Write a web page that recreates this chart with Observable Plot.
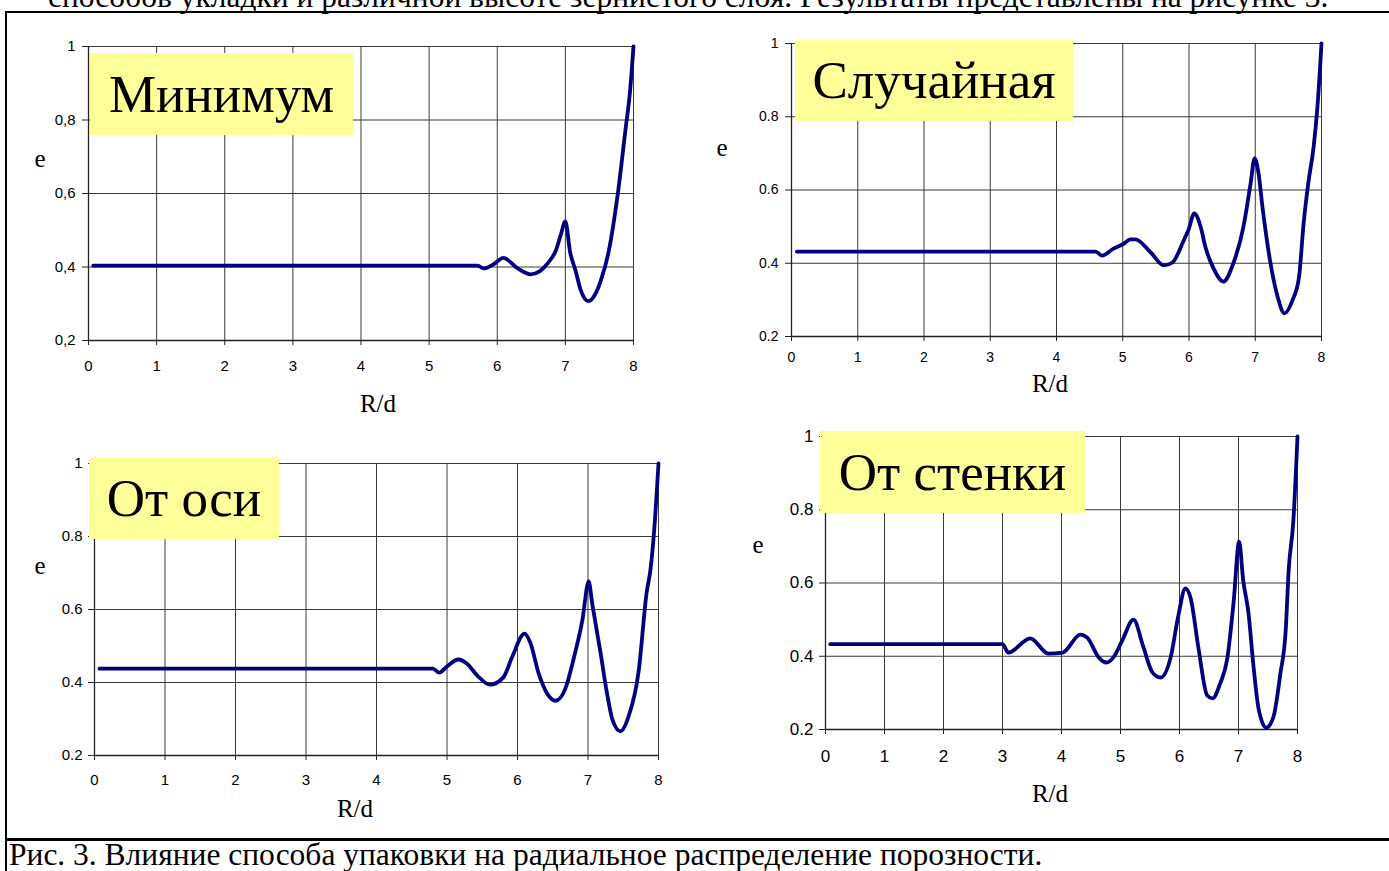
<!DOCTYPE html>
<html><head><meta charset="utf-8">
<script src="https://cdn.jsdelivr.net/npm/d3@7"></script>
<script src="https://cdn.jsdelivr.net/npm/@observablehq/plot@0.6"></script>
<style>
html,body{margin:0;padding:0;background:#fff;}
body{width:1389px;height:871px;overflow:hidden;position:relative;font-family:"Liberation Serif","Times New Roman",serif;color:#000;}
.line{position:absolute;background:#000;}
.box{position:absolute;background:#FFFF99;font-family:"Liberation Serif","Times New Roman",serif;font-size:53px;line-height:1;white-space:nowrap;display:flex;align-items:center;justify-content:center;z-index:2;}
.lab{position:absolute;font-family:"Liberation Serif","Times New Roman",serif;font-size:25px;line-height:1;transform:translate(-50%,-50%);white-space:nowrap;}
.txt{position:absolute;font-family:"Liberation Serif","Times New Roman",serif;font-size:31.5px;line-height:28px;white-space:nowrap;}
svg{position:absolute;overflow:visible;}
</style></head><body>
<script>
// ---- data ----
const xTicks = [0, 1, 2, 3, 4, 5, 6, 7, 8];
const yTicks = [0.2, 0.4, 0.6, 0.8, 1];
const yLabelsComma = ["0,2", "0,4", "0,6", "0,8", "1"];
const yLabelsDot = ["0.2", "0.4", "0.6", "0.8", "1"];
const panelTitles = ["Минимум", "Случайная", "От оси", "От стенки"];
const xAxisTitle = "R/d";
const yAxisTitle = "e";
const topText = "способов укладки и различной высоте зернистого слоя. Результаты представлены на рисунке 3.";
const captionText = "Рис. 3. Влияние способа упаковки на радиальное распределение порозности.";

const minimumX = [0.07, 5.71, 5.80, 5.95, 6.09, 6.30, 6.49, 6.62, 6.74, 6.86, 6.93, 7.00, 7.07, 7.15, 7.22, 7.34, 7.45, 7.52, 7.63, 7.77, 7.88, 7.95, 8.00];
const minimumE = [0.404, 0.404, 0.396, 0.408, 0.425, 0.396, 0.380, 0.388, 0.410, 0.445, 0.486, 0.524, 0.440, 0.390, 0.340, 0.307, 0.330, 0.363, 0.437, 0.600, 0.770, 0.880, 1.000];

const randomX = [0.08, 4.59, 4.69, 4.86, 5.00, 5.12, 5.19, 5.42, 5.62, 5.75, 5.92, 5.99, 6.08, 6.17, 6.25, 6.37, 6.52, 6.67, 6.82, 6.93, 6.99, 7.05, 7.11, 7.23, 7.34, 7.44, 7.56, 7.66, 7.73, 7.80, 7.88, 7.94, 8.00];
const randomE = [0.432, 0.432, 0.421, 0.440, 0.452, 0.465, 0.465, 0.430, 0.394, 0.402, 0.462, 0.490, 0.536, 0.503, 0.443, 0.386, 0.350, 0.400, 0.498, 0.618, 0.686, 0.645, 0.552, 0.400, 0.307, 0.263, 0.298, 0.361, 0.509, 0.618, 0.716, 0.830, 1.000];

const axisX = [0.07, 4.80, 4.89, 5.00, 5.16, 5.28, 5.43, 5.61, 5.80, 5.92, 6.10, 6.18, 6.30, 6.42, 6.54, 6.68, 6.80, 6.92, 7.01, 7.06, 7.18, 7.27, 7.35, 7.46, 7.57, 7.72, 7.83, 7.89, 7.94, 8.00];
const axisE = [0.438, 0.438, 0.427, 0.444, 0.463, 0.452, 0.419, 0.394, 0.414, 0.468, 0.534, 0.510, 0.425, 0.370, 0.350, 0.384, 0.468, 0.570, 0.677, 0.616, 0.479, 0.370, 0.296, 0.266, 0.304, 0.433, 0.644, 0.715, 0.820, 1.000];

const wallX = [0.08, 3.00, 3.10, 3.47, 3.78, 4.02, 4.32, 4.44, 4.63, 4.76, 4.88, 5.03, 5.22, 5.39, 5.54, 5.68, 5.85, 5.98, 6.10, 6.19, 6.32, 6.47, 6.56, 6.69, 6.81, 6.92, 7.01, 7.08, 7.17, 7.25, 7.34, 7.47, 7.59, 7.71, 7.80, 7.85, 7.93, 8.00];
const wallE = [0.433, 0.433, 0.410, 0.449, 0.407, 0.410, 0.459, 0.450, 0.397, 0.383, 0.397, 0.443, 0.500, 0.424, 0.356, 0.342, 0.397, 0.511, 0.585, 0.558, 0.424, 0.293, 0.285, 0.326, 0.394, 0.553, 0.713, 0.607, 0.517, 0.380, 0.257, 0.205, 0.233, 0.353, 0.470, 0.634, 0.770, 1.000];

// ---- layout ----
const panels = [
  {x: minimumX, e: minimumE, labels: yLabelsComma, title: panelTitles[0],
   x0: 88, x8: 633, y1: 46, y02: 340, fs: 15, xpad: 15, ypad: 7,
   box: [90, 53, 263, 82], xl: [378, 403], yl: [40, 158]},
  {x: randomX, e: randomE, labels: yLabelsDot, title: panelTitles[1],
   x0: 791, x8: 1321, y1: 43, y02: 336, fs: 14, xpad: 11, ypad: 7,
   box: [795, 40, 278, 81], xl: [1050, 383], yl: [722, 147]},
  {x: axisX, e: axisE, labels: yLabelsDot, title: panelTitles[2],
   x0: 94, x8: 658, y1: 463, y02: 755, fs: 15, xpad: 14, ypad: 6,
   box: [89, 458, 190, 81], xl: [355, 808], yl: [40, 565]},
  {x: wallX, e: wallE, labels: yLabelsDot, title: panelTitles[3],
   x0: 825, x8: 1297, y1: 436, y02: 729, fs: 17, xpad: 15, ypad: 6,
   box: [820, 431, 265, 82], xl: [1050, 793], yl: [758, 544]}
];

function add(tag, cls, css, text) {
  const el = document.createElement(tag);
  if (cls) el.className = cls;
  Object.assign(el.style, css);
  if (text != null) el.textContent = text;
  document.body.appendChild(el);
  return el;
}

const mL = 60, mT = 16, mR = 14, mB = 50;
for (const p of panels) {
  const data = p.x.map((x, i) => ({x, e: p.e[i]}));
  const w = p.x8 - p.x0, h = p.y02 - p.y1;
  const svg = Plot.plot({
    width: w + mL + mR, height: h + mT + mB,
    marginLeft: mL, marginRight: mR, marginTop: mT, marginBottom: mB,
    x: {domain: [0, 8]},
    y: {domain: [0.2, 1]},
    style: {fontFamily: "'Liberation Sans', Arial, sans-serif", fontSize: p.fs + "px", color: "#000", background: "transparent", overflow: "visible"},
    marks: [
      Plot.gridX(xTicks, {stroke: "#3a3a3a", strokeOpacity: 1, strokeWidth: 1}),
      Plot.gridY(yTicks, {stroke: "#3a3a3a", strokeOpacity: 1, strokeWidth: 1}),
      Plot.ruleX([0], {stroke: "#222", strokeWidth: 1.3}),
      Plot.ruleY([0.2], {stroke: "#222", strokeWidth: 1.3}),
      Plot.axisX({ticks: xTicks, tickSize: 5, tickPadding: p.xpad, label: null, stroke: "#222"}),
      Plot.axisY({ticks: yTicks, tickSize: 6, tickPadding: p.ypad, label: null, stroke: "#222",
        tickFormat: d => p.labels[yTicks.indexOf(d)]}),
      Plot.line(data, {x: "x", y: "e", stroke: "#000080", strokeWidth: 3.8, curve: "monotone-x", strokeLinejoin: "round"})
    ]
  });
  svg.style.left = (p.x0 - mL) + "px";
  svg.style.top = (p.y1 - mT) + "px";
  document.body.appendChild(svg);
  add("div", "box", {left: p.box[0] + "px", top: p.box[1] + "px", width: p.box[2] + "px", height: p.box[3] + "px"}, p.title);
  add("div", "lab", {left: p.xl[0] + "px", top: p.xl[1] + "px"}, xAxisTitle);
  add("div", "lab", {left: p.yl[0] + "px", top: p.yl[1] + "px"}, yAxisTitle);
}

// frame and page text
add("div", "line", {left: "5px", top: "11px", width: "1390px", height: "2px"});
add("div", "line", {left: "5px", top: "11px", width: "2px", height: "870px"});
add("div", "line", {left: "5px", top: "838px", width: "1390px", height: "3px"});
add("div", "txt", {left: "48px", top: "-17px"}, topText);
add("div", "txt", {left: "9px", top: "841px"}, captionText);
</script>
</body></html>
